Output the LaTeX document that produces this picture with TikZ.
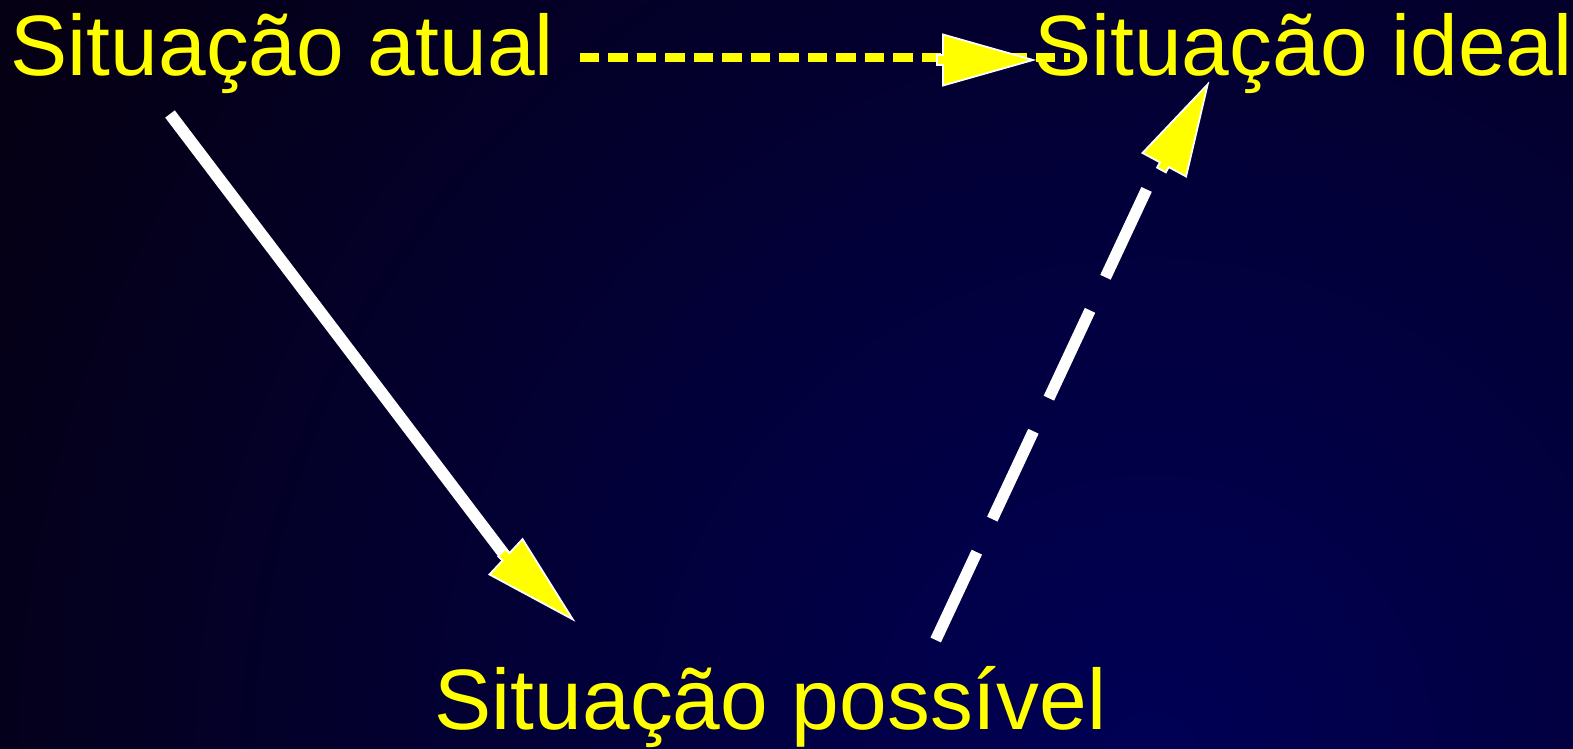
\documentclass[tikz,border=0pt]{standalone}
\usepackage{fontspec}
\setmainfont{Liberation Sans}
\usetikzlibrary{calc}
\definecolor{bgin}{RGB}{0,0,86}
\definecolor{bgout}{RGB}{5,0,20}
\definecolor{txtyellow}{RGB}{255,255,0}
\pgfdeclareradialshading{bgrad}{\pgfpoint{0bp}{0bp}}{color(0bp)=(bgin); color(25bp)=(bgout); color(50bp)=(bgout)}
\tikzset{
  lbl/.style={inner sep=0pt, anchor=base west, text=txtyellow, font=\fontsize{85.7}{86}\selectfont},
  whiteline/.style={draw=white, line width=12pt},
  yellowdash/.style={draw=txtyellow, line width=8.5pt, dash pattern=on 19.6pt off 8.9pt},
  longdash/.style={draw=white, line width=11.5pt, dash pattern=on 97pt off 36.5pt},
  headstyle/.style={fill=txtyellow, draw=white, line width=1.8pt, line join=miter},
}
\newcommand{\arrhead}[3]{%
  \coordinate (#1back) at ($(#1)!-6pt!(#2)$);
  \filldraw[headstyle] ($(#1)!#3!90:(#2)$) -- (#2) -- ($(#1)!#3!-90:(#2)$)
    -- ($(#1)!5pt!-90:(#2)$) -- ($(#1back)!5pt!-90:(#2)$)
    -- ($(#1back)!5pt!90:(#2)$) -- ($(#1)!5pt!90:(#2)$) -- cycle;
}
\begin{document}
\begin{tikzpicture}[x=1pt,y=-1pt]
  \useasboundingbox (0,0) rectangle (1573,748);
  \fill[bgout] (0,0) rectangle (1573,748);
  \begin{scope}
    \clip (0,0) rectangle (1573,748);
    \shade[shading=bgrad] (1150,760) circle (1300);
  \end{scope}
  % connector end points
  \coordinate (d1s) at (579.6,57.5);
  \coordinate (d1e) at (1070,57.5);
  \coordinate (h1b) at (943,60);
  \coordinate (h1t) at (1033,60);
  \coordinate (l2s) at (170,114);
  \coordinate (h2b) at (506,556.8);
  \coordinate (h2t) at (572.7,619.3);
  \coordinate (l3s) at (935.7,640);
  \coordinate (l3e) at (1158,165);
  \coordinate (h3b) at (1164.3,164.7);
  \coordinate (h3t) at (1207.7,84.3);
  % connectors
  \draw[yellowdash] (d1s) -- (d1e);
  \draw[whiteline] (l2s) -- (h2b);
  \draw[longdash] (l3s) -- (l3e);
  \arrhead{h1b}{h1t}{25.5pt}
  \arrhead{h2b}{h2t}{24.2pt}
  \arrhead{h3b}{h3t}{24.75pt}
  % text nodes
  \node[lbl] (atual) at (10.5,75.5) {Situação atual};
  \node[lbl] (ideal) at (1034,75.5) {Situação ideal};
  \node[lbl] (possivel) at (434.5,729) {Situação possível};
\end{tikzpicture}
\end{document}
